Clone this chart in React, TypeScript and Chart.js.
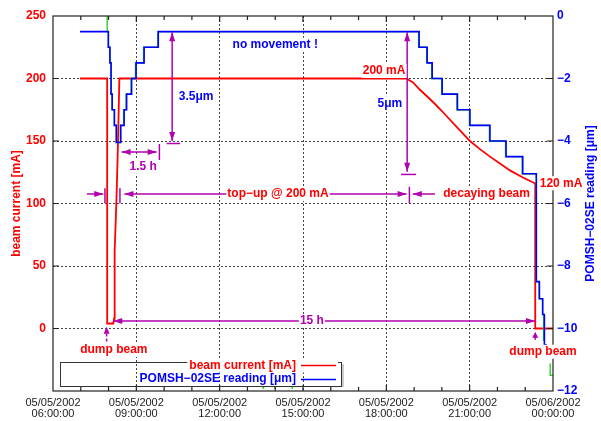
import React, { useEffect, useRef } from 'react';
import { Chart, registerables } from 'chart.js';

Chart.register(...registerables);

// ---------------- data (time in hours since 05/05/2002 00:00) ----------------
const xTickLabels: string[][] = [
  ['05/05/2002', '06:00:00'],
  ['05/05/2002', '09:00:00'],
  ['05/05/2002', '12:00:00'],
  ['05/05/2002', '15:00:00'],
  ['05/05/2002', '18:00:00'],
  ['05/05/2002', '21:00:00'],
  ['05/06/2002', '00:00:00'],
];
const leftTickValues = [-50, 0, 50, 100, 150, 200, 250];
const rightTickValues = [-12, -10, -8, -6, -4, -2, 0];

// beam current [mA]
const currentTimes = [6.97, 7.95, 7.95, 8.17, 8.2, 8.21, 8.23, 8.28, 8.33, 8.39, 18.71, 18.95, 19.21, 19.45, 19.69, 20.0, 20.29, 20.65, 21.01, 21.37, 21.73, 22.09, 22.45, 22.9, 23.36, 23.36, 24.0];
const currentValues = [200, 200, 4, 4, 8, 35, 62, 100, 140, 200, 200, 197, 191, 186, 181, 174, 167, 158.5, 150, 143.5, 137.5, 132, 126.5, 121, 116, 0, 0];

// POMSH-02SE reading [um] (step changes: time of change, new value)
const blueTimes = [6.97, 7.99, 8.05, 8.09, 8.13, 8.21, 8.28, 8.44, 8.56, 8.65, 8.83, 8.99, 9.28, 9.79, 19.18, 19.47, 19.65, 20.01, 20.56, 21.01, 21.73, 22.31, 22.91, 23.4, 23.51, 23.63, 23.69, 23.78];
const blueValues = [-0.5, -1.0, -1.5, -2.5, -3.0, -3.5, -4.05, -3.5, -3.0, -2.5, -2.0, -1.5, -1.0, -0.5, -1.0, -1.5, -2.0, -2.5, -3.0, -3.5, -4.0, -4.5, -5.05, -8.5, -9.05, -9.55, -10.52, -10.52];

// second (green) reading, mostly hidden under the blue one
const greenTimes = [6.97, 7.95, 8.0, 8.05, 8.09, 8.13, 8.21, 8.28, 8.42, 8.54, 8.63, 8.81, 8.97, 9.26, 9.77, 19.16, 19.45, 19.63, 19.99, 20.54, 20.99, 21.71, 22.29, 22.89, 23.4, 23.5, 23.62, 23.66, 23.75, 23.89, 23.9, 24.0];
const greenValues = [1.0, -0.5, -1.0, -1.5, -2.5, -3.0, -3.5, -4.05, -3.5, -3.0, -2.5, -2.0, -1.5, -1.0, -0.5, -1.0, -1.5, -2.0, -2.5, -3.0, -3.5, -4.0, -4.5, -5.05, -8.5, -9.05, -9.55, -10.4, null, -11.13, -11.5, -11.5];

const glitchTimes = [13.57, 13.99, 14.61];
const glitchValues = [-11.9, -11.9, -11.9];

// ---------------- styles ----------------
const FONT = '"Liberation Sans", Arial, Helvetica, sans-serif';
const RED = '#ff0000';
const BLUE = '#0000ff';
const GREEN = '#22cc22';
const MAG = '#b000b0';
const GRID = '#444444';

const toPts = (xs: number[], ys: (number | null)[]) => xs.map((t, i) => ({ x: t, y: ys[i] }));

export default function App() {
  const ref = useRef<HTMLCanvasElement>(null);

  useEffect(() => {
    document.body.style.margin = '0';
    const canvas = ref.current!;

    const annot = {
      id: 'annot',
      afterDatasetsDraw(chart: any) {
        const { ctx, chartArea: a } = chart;
        const sx = chart.scales.x, sy = chart.scales.y, sr = chart.scales.y2;
        const X = (v: number) => sx.getPixelForValue(v);
        const L = (v: number) => sy.getPixelForValue(v);
        const R = (v: number) => sr.getPixelForValue(v);
        ctx.save();

        // frame
        ctx.setLineDash([]);
        ctx.strokeStyle = '#222';
        ctx.lineWidth = 1.2;
        ctx.strokeRect(a.left, a.top, a.right - a.left, a.bottom - a.top);
        // tick marks
        ctx.beginPath();
        for (let h = 7; h < 24; h++) {
          const px = X(h);
          const len = h % 3 === 0 ? 6 : 4;
          ctx.moveTo(px, a.bottom); ctx.lineTo(px, a.bottom - len);
          ctx.moveTo(px, a.top); ctx.lineTo(px, a.top + len);
        }
        for (const v of leftTickValues) {
          if (v <= -50 || v >= 250) continue;
          ctx.moveTo(a.left, L(v)); ctx.lineTo(a.left + 6, L(v));
        }
        for (const v of rightTickValues) {
          if (v <= -12 || v >= 0) continue;
          ctx.moveTo(a.right, R(v)); ctx.lineTo(a.right - 6, R(v));
        }
        ctx.stroke();

        const line = (x1: number, y1: number, x2: number, y2: number) => {
          ctx.beginPath(); ctx.moveTo(x1, y1); ctx.lineTo(x2, y2); ctx.stroke();
        };
        const head = (tx: number, ty: number, dx: number, dy: number, len = 9, half = 3) => {
          const bx = tx - dx * len, by = ty - dy * len;
          ctx.beginPath();
          ctx.moveTo(tx, ty);
          ctx.lineTo(bx - dy * half, by + dx * half);
          ctx.lineTo(bx + dy * half, by - dx * half);
          ctx.closePath();
          ctx.fill();
        };
        const text = (s: string, x: number, y: number, color: string, bg = true) => {
          ctx.font = `bold 12px ${FONT}`;
          const w = ctx.measureText(s).width;
          if (bg) { ctx.fillStyle = '#fff'; ctx.fillRect(x - w / 2 - 1, y - 7, w + 2, 14); }
          ctx.fillStyle = color;
          ctx.textAlign = 'center';
          ctx.textBaseline = 'middle';
          ctx.fillText(s, x, y);
        };

        ctx.strokeStyle = MAG;
        ctx.fillStyle = MAG;
        ctx.lineWidth = 1.5;

        // 3.5 um arrow
        {
          const px = X(10.29);
          line(px, R(-0.52), px, R(-4.0));
          head(px, R(-0.52), 0, -1); head(px, R(-4.0), 0, 1);
          line(X(10.09), R(-4.08), X(10.57), R(-4.08));
        }
        // 1.5 h arrow
        {
          const py = L(141.2);
          line(X(8.47), py, X(9.73), py);
          head(X(8.47), py, -1, 0); head(X(9.73), py, 1, 0);
          line(X(9.83), L(147.6), X(9.83), L(134.8));
        }
        // top-up / decaying beam markers
        {
          const py = L(107.6);
          line(X(7.22), py, X(7.81), py); head(X(7.81), py, 1, 0);
          line(X(7.87), L(112.2), X(7.87), L(100.2));
          line(X(8.41), L(112.2), X(8.41), L(100.2));
          line(X(8.57), py, X(18.73), py);
          head(X(8.57), py, -1, 0); head(X(18.73), py, 1, 0);
          line(X(18.83), L(113.4), X(18.83), L(100.2));
          line(X(19.75), py, X(18.95), py); head(X(18.95), py, -1, 0);
        }
        // 15 h arrow
        {
          const py = L(6.0);
          line(X(8.17), py, X(23.35), py);
          head(X(8.17), py, -1, 0); head(X(23.35), py, 1, 0);
        }
        // 5 um arrow
        {
          const px = X(18.75);
          line(px, R(-0.52), px, R(-4.98));
          head(px, R(-0.52), 0, -1); head(px, R(-4.98), 0, 1);
          line(X(18.53), R(-5.07), X(19.07), R(-5.07));
        }
        // dump beam arrows (dashed)
        {
          ctx.setLineDash([3, 2]);
          line(X(7.93), L(-4.0), X(7.93), L(-10.7));
          line(X(23.36), L(-6.5), X(23.36), L(-10.6));
          ctx.setLineDash([]);
          head(X(7.93), L(1.4), 0, -1, 7, 3);
          head(X(23.36), L(-2.6), 0, -1, 6, 3);
        }

        // texts
        text('no movement !', X(14.0), L(227), BLUE);
        text('200 mA', X(17.92), L(206), RED);
        text('3.5\u03bcm', X(11.15), L(185.4), BLUE);
        text('5\u03bcm', X(18.13), L(180.2), BLUE);
        text('1.5 h', X(9.25), L(129.4), MAG);
        text('top\u2212up @ 200 mA', X(14.1), L(107.6), RED);
        text('decaying beam', X(21.61), L(107.6), RED);
        text('120 mA', X(24.29), L(116.2), RED);
        text('15 h', X(15.32), L(6.0), MAG);
        text('dump beam', X(8.19), L(-17.2), RED);
        text('dump beam', X(23.64), L(-18.6), RED);

        // axis titles
        const cy = (a.top + a.bottom) / 2;
        ctx.font = `bold 12px ${FONT}`;
        ctx.textAlign = 'center';
        ctx.textBaseline = 'middle';
        ctx.save();
        ctx.translate(17, cy); ctx.rotate(-Math.PI / 2);
        ctx.fillStyle = RED; ctx.fillText('beam current [mA]', 0, 0);
        ctx.restore();
        ctx.save();
        ctx.translate(591, cy); ctx.rotate(-Math.PI / 2);
        ctx.fillStyle = BLUE; ctx.fillText('POMSH\u221202SE reading [\u03bcm]', 0, 0);
        ctx.restore();

        // legend
        {
          const lx = a.left + 7, ly = a.bottom - 29, lw = 281, lh = 24;
          ctx.strokeStyle = '#333'; ctx.lineWidth = 1;
          ctx.strokeRect(lx + 0.5, ly + 0.5, lw, lh);
          ctx.strokeStyle = '#999';
          line(lx + lw + 2, ly + 2, lx + lw + 2, ly + lh + 1);
          const tr = lx + 236, s1 = lx + 241, s2 = lx + 276;
          const r1 = ly + 3.5, r2 = ly + 17;
          const t1 = 'beam current [mA]';
          const t2 = 'POMSH\u221202SE reading [\u03bcm]';
          ctx.font = `bold 12px ${FONT}`;
          const w1 = ctx.measureText(t1).width;
          ctx.fillStyle = '#fff';
          ctx.fillRect(tr - w1 - 2, r1 - 7, s2 - tr + w1 + 4, 14);
          ctx.textAlign = 'right'; ctx.textBaseline = 'middle';
          ctx.fillStyle = RED; ctx.fillText(t1, tr, r1);
          ctx.fillStyle = BLUE; ctx.fillText(t2, tr, r2);
          ctx.lineWidth = 1.5;
          ctx.strokeStyle = RED; line(s1, r1, s2, r1);
          ctx.strokeStyle = BLUE; line(s1, r2 + 0.5, s2, r2 + 0.5);
        }
        ctx.restore();
      },
    };

    const chart = new Chart(canvas, {
      type: 'line',
      data: {
        datasets: [
          {
            label: 'POMSH\u221202SE reading [\u03bcm]',
            data: toPts(blueTimes, blueValues),
            yAxisID: 'y2', borderColor: BLUE, borderWidth: 1.6,
            stepped: 'before', pointRadius: 0, fill: false,
          },
          {
            label: 'reading 2',
            data: toPts(greenTimes, greenValues),
            yAxisID: 'y2', borderColor: GREEN, borderWidth: 1.3,
            stepped: 'before', pointRadius: 0, fill: false, spanGaps: false,
          },
          {
            label: 'glitch',
            data: toPts(glitchTimes, glitchValues),
            yAxisID: 'y2', showLine: false, pointRadius: 1,
            pointBackgroundColor: GREEN, pointBorderWidth: 0, borderColor: GREEN,
          },
          {
            label: 'beam current [mA]',
            data: toPts(currentTimes, currentValues),
            yAxisID: 'y', borderColor: RED, borderWidth: 1.8,
            pointRadius: 0, tension: 0, fill: false,
          },
        ],
      } as any,
      options: {
        animation: false,
        responsive: false,
        devicePixelRatio: 1,
        events: [],
        layout: { padding: { top: 16, left: 0, right: 0, bottom: 0 } },
        plugins: { legend: { display: false }, tooltip: { enabled: false } },
        scales: {
          x: {
            type: 'linear', position: 'bottom', min: 6, max: 24,
            afterFit: (s: any) => { s.height = 30; },
            ticks: {
              stepSize: 1, autoSkip: false, maxRotation: 0, minRotation: 0, padding: 6,
              color: '#222', font: { family: FONT, size: 11, lineHeight: 1 },
              callback: (v: any) => {
                const n = Number(v);
                return Math.abs(n % 3) < 1e-9 ? xTickLabels[Math.round((n - 6) / 3)] : '';
              },
            },
            grid: {
              drawTicks: false, lineWidth: 1,
              color: (c: any) => {
                const v = c.tick ? c.tick.value : 0;
                return v % 3 === 0 && v > 6 && v < 24 ? GRID : 'rgba(0,0,0,0)';
              },
            },
            border: { display: false, dash: [2, 2] },
          },
          y: {
            type: 'linear', position: 'left', min: -50, max: 250,
            afterFit: (s: any) => { s.width = 53; },
            ticks: {
              stepSize: 50, padding: 7, color: RED,
              font: { family: FONT, size: 12, weight: 'bold' },
              callback: (v: any) => (Number(v) < 0 ? '' : String(v)),
            },
            grid: {
              drawTicks: false, lineWidth: 1,
              color: (c: any) => {
                const v = c.tick ? c.tick.value : 0;
                return v >= 0 && v < 250 ? GRID : 'rgba(0,0,0,0)';
              },
            },
            border: { display: false, dash: [2, 2] },
          },
          y2: {
            type: 'linear', position: 'right', min: -12, max: 0,
            afterFit: (s: any) => { s.width = 48; },
            ticks: {
              stepSize: 2, padding: 4, color: BLUE,
              font: { family: FONT, size: 12, weight: 'bold' },
              callback: (v: any) => (Number(v) === 0 ? '0' : '\u2212' + Math.abs(Number(v))),
            },
            grid: { display: false, drawTicks: false },
            border: { display: false },
          },
        },
      } as any,
      plugins: [annot],
    });
    return () => chart.destroy();
  }, []);

  return (
    <div style={{ width: 601, height: 421 }}>
      <canvas ref={ref} width={601} height={421} style={{ display: 'block' }} />
    </div>
  );
}
